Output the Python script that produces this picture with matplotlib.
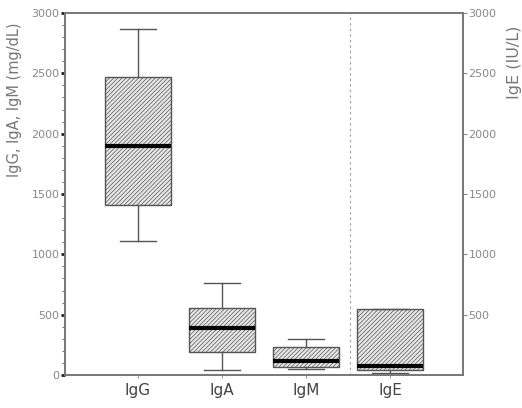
import matplotlib
matplotlib.use("Agg")
import matplotlib.pyplot as plt
from matplotlib.ticker import MultipleLocator

categories = ["IgG", "IgA", "IgM", "IgE"]
whislo = [1110, 41, 50, 14]
q1 = [1410, 193, 69, 41]
med = [1895, 387, 118, 77]
q3 = [2470, 558, 229, 544]
whishi = [2870, 760, 296, 550]

left_ticks = [0, 500, 1000, 1500, 2000, 2500, 3000]
right_ticks = [500, 1000, 1500, 2000, 2500, 3000]

plt.rcParams['hatch.color'] = '#9a9a9a'
plt.rcParams['hatch.linewidth'] = 0.5

fig = plt.figure(figsize=(5.22, 4.08), dpi=100)
ax = fig.add_axes([65/522, 1 - 375/408, (463-65)/522, (375-13)/408])

stats = []
for i, c in enumerate(categories):
    stats.append(dict(label=c, whislo=whislo[i], q1=q1[i], med=med[i],
                      q3=q3[i], whishi=whishi[i], fliers=[]))

gray = '#555555'
bp = ax.bxp(stats, positions=[1, 2, 3, 4], widths=0.78, patch_artist=True,
            showfliers=False,
            boxprops=dict(facecolor='#e8e8e8', edgecolor=gray, linewidth=1.0, hatch='////////'),
            medianprops=dict(color='black', linewidth=3.0),
            whiskerprops=dict(color=gray, linewidth=1.0),
            capprops=dict(color=gray, linewidth=1.0),
            capwidths=0.42)

ax.axvline(3.52, color='#999999', linestyle=(0, (2, 3)), linewidth=0.8)

ax.set_xlim(0.13, 4.87)
ax.set_ylim(0, 3000)
ax.set_yticks(left_ticks)
ax.yaxis.set_minor_locator(MultipleLocator(100))
ax.tick_params(axis='y', which='major', direction='out', length=3, width=2,
               colors='#222222', labelcolor='#888888', labelsize=8, pad=1)
ax.tick_params(axis='y', which='minor', direction='out', length=2, width=0.8, colors='#777777')
ax.tick_params(axis='x', length=2, color='#999999', labelsize=11, labelcolor='#444444', pad=4)

for s in ax.spines.values():
    s.set_color('#777777')
    s.set_linewidth(1.4)

ax.set_ylabel("IgG, IgA, IgM (mg/dL)", color='#777777', fontsize=10.5)
ax.yaxis.set_label_coords(-0.108, 0.76)

ax2 = ax.twinx()
ax2.set_ylim(0, 3000)
ax2.set_yticks(right_ticks)
ax2.tick_params(axis='y', direction='out', length=3, width=0.8, colors='#888888',
                labelcolor='#888888', labelsize=8, pad=1)
for s in ax2.spines.values():
    s.set_visible(False)
ax2.set_ylabel("IgE (IU/L)", color='#777777', fontsize=11.5)
ax2.yaxis.set_label_coords(1.11, 0.865)

fig.savefig("out.png", dpi=100)
